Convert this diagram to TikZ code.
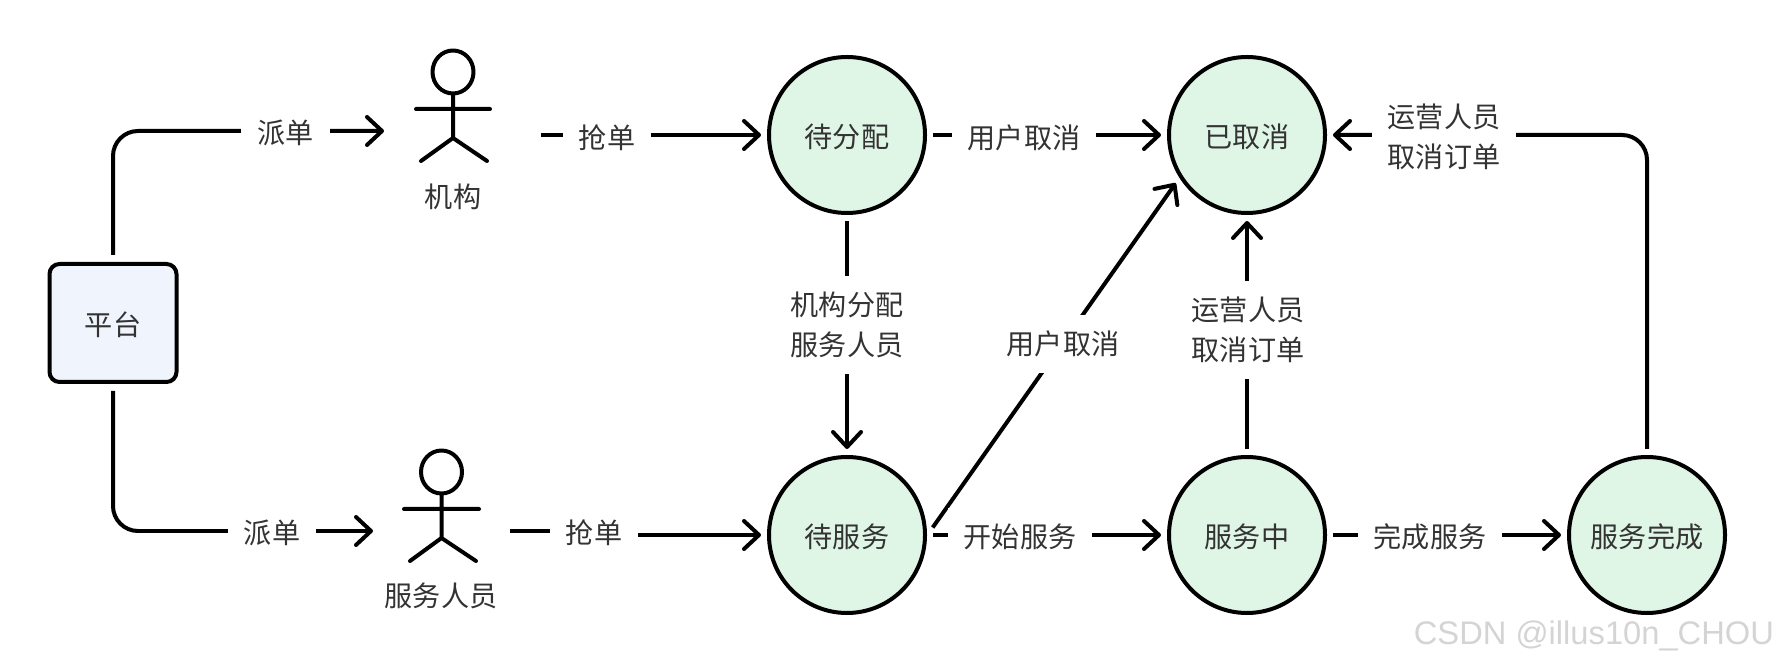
\documentclass[tikz,border=0pt]{standalone}
\usepackage{fontspec}
\setmainfont{Noto Sans CJK SC}
\newfontfamily\markfont{Liberation Sans}
\usetikzlibrary{arrows.meta,positioning}
\definecolor{statefill}{HTML}{DFF5E6}
\definecolor{platformfill}{HTML}{F0F4FD}
\definecolor{labeltext}{HTML}{333333}
\definecolor{marktext}{HTML}{D4D4D4}

\begin{document}
\begin{tikzpicture}
[line width=0.04cm, >={Straight Barb[length=0.15cm,width=0.28cm,round]},
state/.style={circle, draw, fill=statefill, text=labeltext, inner sep=0pt, minimum size=1.56cm, outer sep=0.08cm, text height=0.27cm, text depth=0.016cm, font=\fontsize{8}{11.4}\selectfont},
platform/.style={rectangle, draw, fill=platformfill, text=labeltext, rounded corners=0.1cm, minimum width=1.27cm, minimum height=1.18cm, outer sep=0.09cm, text height=0.27cm, text depth=0.016cm, font=\fontsize{8}{11.4}\selectfont},
edgelabel/.style={rectangle, fill=white, text=labeltext, align=center, inner sep=0.16cm, font=\fontsize{8}{11.4}\selectfont},
actorname/.style={text=labeltext, inner sep=0pt, font=\fontsize{8}{11.4}\selectfont},
actor/.style={line cap=round, line join=round}]

\useasboundingbox (0,0) rectangle (17.76,6.64);

\node[platform] (platform) at (1.13,3.41) {平台};

\node[state] (pending) at (8.47,5.29) {待分配};
\node[state] (cancelled) at (12.47,5.29) {已取消};
\node[state] (waiting) at (8.47,1.29) {待服务};
\node[state] (serving) at (12.47,1.29) {服务中};
\node[state] (finished) at (16.47,1.29) {服务完成};

% actors
\draw[actor] (4.53,5.92) ellipse (0.205 and 0.215);
\draw[actor] (4.53,5.70) -- (4.53,5.26) (4.16,5.55) -- (4.90,5.55) (4.21,5.03) -- (4.53,5.26) -- (4.87,5.03);
\node[actorname] (agency) at (4.53,4.67) {机构};

\draw[actor] (4.415,1.92) ellipse (0.205 and 0.215);
\draw[actor] (4.415,1.70) -- (4.415,1.26) (4.04,1.55) -- (4.79,1.55) (4.10,1.03) -- (4.415,1.26) -- (4.76,1.03);
\node[actorname] (worker) at (4.41,0.68) {服务人员};

\coordinate (agencyin) at (3.84,5.33);
\coordinate (agencyout) at (5.41,5.29);
\coordinate (workerin) at (3.73,1.33);
\coordinate (workerout) at (5.10,1.33);
\coordinate (workerjog) at (5.94,1.33);

% connectors
\draw[->,rounded corners=0.25cm] (platform.north) |- (agencyin);
\draw[->,rounded corners=0.25cm] (platform.south) |- (workerin);
\draw[->] (agencyout) -- (pending.west);
\draw[->] (workerout) -- (workerjog) -- (5.94,1.29) -- (waiting.west);
\draw[->] (pending.east) -- (cancelled.west);
\draw[->] (pending.south) -- (waiting.north);
\draw[->] (waiting.5) -- (cancelled.214);
\draw[->] (waiting.east) -- (serving.west);
\draw[->] (serving.north) -- (cancelled.south);
\draw[->] (serving.east) -- (finished.west);
\draw[->,rounded corners=0.25cm] (finished.north) |- (cancelled.east);

% labels on the connectors
\node[edgelabel] (dispatch1) at (2.855,5.31) {派单};
\node[edgelabel] (dispatch2) at (2.72,1.31) {派单};
\node[edgelabel] (grab1) at (6.07,5.26) {抢单};
\node[edgelabel] (grab2) at (5.94,1.31) {抢单};
\node[edgelabel] (usercancel1) at (10.24,5.26) {用户取消};
\node[edgelabel] (usercancel2) at (10.63,3.20) {用户取消};
\node[edgelabel] (assign) at (8.47,3.39) {机构分配\\服务人员};
\node[edgelabel] (start) at (10.20,1.27) {开始服务};
\node[edgelabel] (complete) at (14.30,1.27) {完成服务};
\node[edgelabel] (opcancel1) at (12.48,3.34) {运营人员\\取消订单};
\node[edgelabel] (opcancel2) at (14.44,5.27) {运营人员\\取消订单};

\node[anchor=east, inner sep=0pt, text=marktext, font=\markfont\fontsize{9.3}{11}\selectfont] (watermark) at (17.76,0.28) {CSDN @illus10n\_CHOU};

\end{tikzpicture}
\end{document}
